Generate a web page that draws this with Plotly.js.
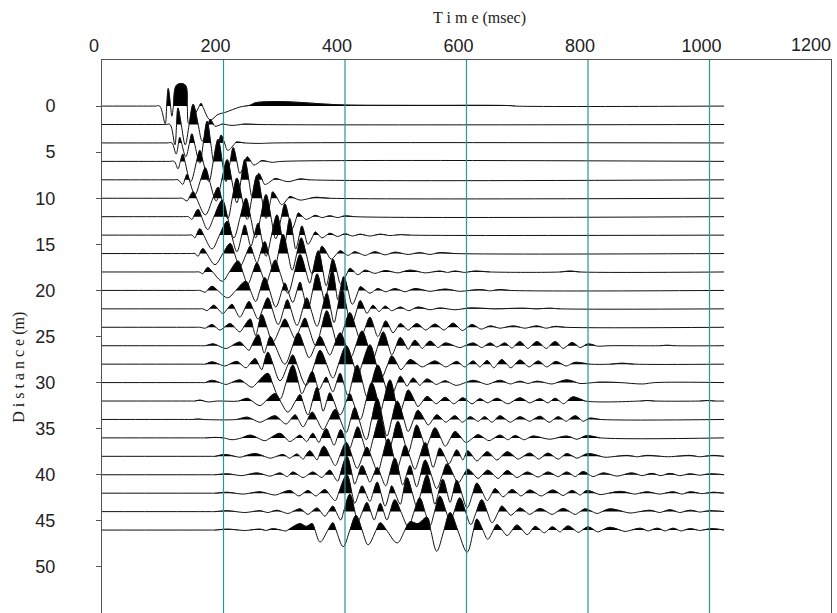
<!DOCTYPE html>
<html>
<head>
<meta charset="utf-8">
<script src="https://cdn.plot.ly/plotly-3.0.1.min.js"></script>
<style>html,body{margin:0;padding:0;background:#fff;}#chart{width:837px;height:613px;}</style>
</head>
<body>
<div id="chart"></div>
<script>
// Distance (m) of each trace
const distances = [0,2,4,6,8,10,12,14,16,18,20,22,24,26,28,30,32,34,36,38,40,42,44,46];
// Time axis ticks (ms) and distance ticks (m)
const timeTicks = [0,200,400,600,800,1000,1200];
const timeLabels = ['0','200','400','600','800','1000',''];
const lastTimeLabel = '1200';
const gridTimes = [200,400,600,800,1000];
const distTicks = [0,5,10,15,20,25,30,35,40,45,50];

// Each trace: [time ms, amplitude m] read at extrema (positive = up, filled)
const w00 = [[0,0],[87,0],[95,0],[104,-1.9],[109,1.9],[115,-1.1],[123,2.3],[137,2.3],[143,-1.9],[163,0.3],[178,-1.5],[191,-0.9],[202,-0.7],[227,-0.1],[244,0.1],[252,0.35],[285,0.5],[326,0.4],[359,0.25],[400,0.12],[507,0.08],[672,0.05],[680,0],[1024,0]];
const w01 = [[0,0],[104,0],[112,0],[120,-2.2],[125,1.8],[137,-2.2],[150,2.2],[165,-1.8],[178,0.55],[186,-0.2],[198,0.05],[214,-0.1],[235,0.05],[260,0],[1024,0]];
const w02 = [[0,0],[107,0],[115,0],[122,-1.2],[128,0.6],[138,-1.5],[148,1.0],[161,-2.2],[173,2.35],[184,-2.0],[196,0.85],[207,-0.8],[221,0.1],[235,0],[260,-0.05],[285,0],[1024,0]];
const w03 = [[0,0],[111,0],[119,0],[125,-0.8],[133,0.8],[146,-2.2],[161,1.2],[176,-2.2],[191,2.4],[204,-2.2],[216,1.5],[227,-1.3],[239,0.5],[250,-0.4],[263,0.1],[280,-0.1],[296,0],[1024,0]];
const w04 = [[0,0],[117,0],[125,0],[133,-0.5],[140,0.6],[153,-1.6],[170,1.3],[188,-2.3],[206,2.2],[222,-2.5],[235,2.2],[247,-1.8],[258,0.7],[268,-0.5],[285,0.15],[306,-0.2],[326,0.1],[342,0],[1024,0]];
const w05 = [[0,0],[124,0],[132,0],[140,-0.3],[150,0.7],[170,-1.8],[191,1.2],[207,-2.2],[222,2.2],[239,-2.3],[255,2.5],[270,-2.2],[281,0.7],[296,-0.7],[309,0.2],[326,-0.2],[351,0.1],[375,0],[1024,0]];
const w06 = [[0,0],[134,0],[142,0],[148,-0.3],[158,0.8],[174,-1.4],[198,1.8],[217,-2.3],[237,2.0],[253,-2.3],[270,2.4],[286,-2.4],[301,1.4],[313,-1.3],[323,0.4],[336,-0.3],[351,0.15],[362,-0.1],[375,0.1],[388,-0.1],[400,0.1],[416,0],[1024,0]];
const w07 = [[0,0],[140,0],[148,0],[153,-0.3],[161,0.7],[181,-1.5],[206,1.5],[222,-1.8],[235,1.1],[245,-1.2],[257,1.3],[270,-2.3],[288,2.2],[300,-1.3],[309,1.8],[319,-1.5],[329,1.0],[339,-1.0],[351,0.35],[362,-0.3],[375,0.2],[388,-0.15],[400,0.15],[412,-0.1],[425,0.1],[441,-0.1],[458,0.1],[474,-0.05],[491,0.05],[507,0],[1024,0]];
const w08 = [[0,0],[145,0],[153,0],[158,-0.3],[166,0.55],[186,-1.2],[211,1.1],[227,-1.4],[244,0.8],[255,-1.0],[268,1.3],[283,-2.0],[298,2.1],[313,-1.8],[328,1.7],[346,-2.2],[362,0.8],[377,-0.6],[392,0.3],[405,-0.2],[416,0.2],[433,-0.2],[449,0.2],[466,-0.15],[482,0.15],[504,-0.1],[523,0.1],[540,-0.1],[556,0.1],[581,0],[1024,0]];
const w09 = [[0,0],[152,0],[160,0],[166,-0.2],[174,0.5],[198,-1.0],[224,1.2],[240,-1.3],[255,1.0],[270,-1.2],[285,1.3],[306,-2.3],[326,1.9],[342,-1.2],[356,2.3],[369,-1.5],[380,1.4],[393,-1.3],[408,0.4],[421,-0.3],[433,0.2],[449,-0.15],[466,0.15],[487,-0.1],[507,0.2],[532,-0.1],[556,0.1],[569,-0.05],[581,0.1],[597,-0.05],[614,0.1],[639,0],[754,0],[770,0.1],[787,0],[1024,0]];
const w10 = [[0,0],[153,0],[161,0],[170,-0.2],[181,0.45],[207,-0.8],[237,1.0],[253,-1.2],[268,1.4],[286,-1.8],[301,0.8],[314,-1.3],[326,0.9],[339,-2.0],[354,1.8],[367,-1.2],[379,2.2],[388,-1.0],[398,1.5],[412,-1.5],[425,0.4],[441,-0.3],[454,0.2],[467,-0.15],[482,0.2],[499,-0.15],[515,0.2],[540,-0.1],[565,0.15],[589,-0.1],[622,0.1],[639,-0.05],[655,0.1],[672,0],[1024,0]];
const w11 = [[0,0],[158,0],[166,0],[173,-0.2],[184,0.4],[199,-0.5],[214,0.5],[227,-0.9],[242,0.8],[257,-1.1],[273,1.2],[290,-1.7],[305,1.0],[321,-1.8],[337,1.2],[354,-1.9],[370,1.7],[382,-1.5],[395,2.1],[410,-1.8],[425,0.9],[436,-0.5],[446,0.4],[456,-0.3],[466,0.3],[477,-0.2],[491,0.2],[505,-0.2],[520,0.2],[540,-0.1],[556,0.1],[581,-0.1],[606,0.1],[647,0],[693,0.07],[716,0],[737,0.07],[754,0],[1024,0]];
const w12 = [[0,0],[153,0],[161,0],[170,-0.1],[181,0.3],[194,-0.3],[211,0.4],[227,-0.5],[244,0.9],[253,-0.9],[263,1.4],[281,-1.6],[301,0.9],[318,-1.2],[334,1.0],[352,-2.0],[370,1.8],[388,-1.8],[408,1.6],[425,-1.3],[441,1.1],[454,-1.0],[467,0.7],[479,-0.6],[491,0.4],[504,-0.3],[518,0.4],[533,-0.3],[548,0.35],[563,-0.3],[578,0.45],[593,-0.35],[609,0.3],[624,-0.2],[639,0.15],[655,-0.1],[677,0.15],[696,-0.1],[716,0.15],[731,-0.1],[746,0.1],[762,0],[1024,0]];
const w13 = [[0,0],[162,0],[170,0],[183,0.2],[204,-0.3],[227,0.4],[242,-0.5],[257,1.2],[267,-0.8],[277,1.0],[301,-2.0],[323,1.4],[341,-1.3],[359,1.0],[375,-1.0],[392,1.4],[410,-1.2],[428,1.6],[446,-1.4],[463,1.5],[477,-1.0],[491,0.9],[504,-0.4],[515,0.6],[527,-0.3],[540,0.5],[553,-0.2],[565,0.3],[589,-0.2],[611,0.3],[625,-0.2],[639,0.3],[650,-0.15],[663,0.3],[675,-0.25],[688,0.45],[701,-0.3],[716,0.45],[731,-0.3],[746,0.45],[759,-0.3],[774,0.35],[787,-0.2],[800,0.2],[816,-0.05],[836,0],[918,0],[930,0.05],[943,0],[1024,0]];
const w14 = [[0,0],[162,0],[170,0],[181,0.25],[202,-0.2],[222,0.3],[237,-0.4],[252,0.6],[263,-0.6],[273,1.3],[293,-1.8],[314,1.0],[336,-2.3],[359,1.5],[380,-1.5],[402,2.0],[421,-1.2],[441,2.1],[459,-1.6],[477,0.9],[492,-0.6],[507,0.5],[527,-0.3],[548,0.35],[566,-0.3],[584,0.3],[597,-0.3],[611,0.35],[622,-0.3],[634,0.4],[645,-0.4],[658,0.5],[673,-0.4],[688,0.45],[703,-0.3],[718,0.35],[732,-0.3],[747,0.3],[764,-0.2],[779,0.2],[803,0],[836,0],[856,0.1],[877,0],[1024,0]];
const w15 = [[0,0],[162,0],[170,0],[181,0.25],[204,-0.2],[227,0.3],[247,-0.5],[273,1.0],[293,-1.8],[314,1.9],[329,-1.2],[346,1.2],[357,-0.8],[369,0.6],[380,-1.0],[392,1.0],[405,-1.4],[420,1.9],[436,-1.5],[454,1.9],[474,-1.7],[491,0.7],[502,-0.4],[512,0.5],[523,-0.3],[535,0.4],[550,-0.2],[565,0.2],[583,-0.3],[611,0.25],[634,-0.2],[655,0.25],[672,-0.15],[688,0.15],[701,-0.1],[716,0.15],[741,-0.15],[765,0.3],[787,-0.1],[820,0.05],[853,0],[890,-0.15],[910,0],[1024,0]];
const w16 = [[0,0],[145,0],[153,0],[161,0.1],[175,-0.1],[190,0],[225,0],[239,0.3],[260,-0.5],[285,0.8],[306,-1.2],[326,0.7],[339,-1.5],[354,1.5],[364,-1.1],[375,0.9],[392,-1.5],[408,0.8],[425,-2.0],[444,2.0],[459,-1.0],[474,2.3],[489,-1.5],[504,1.2],[520,-0.6],[535,0.5],[550,-0.3],[565,0.4],[579,-0.3],[594,0.35],[609,-0.3],[622,0.25],[635,-0.2],[650,0.3],[668,-0.3],[688,0.35],[704,-0.2],[721,0.25],[734,-0.2],[746,0.3],[760,-0.3],[775,0.45],[795,0],[886,0],[897,0.05],[910,0],[984,0],[997,0.05],[1009,0],[1024,0]];
const w17 = [[0,0],[142,0],[150,0],[158,0.05],[166,0],[222,0],[239,0.25],[260,-0.3],[285,0.4],[303,-0.5],[318,0.5],[331,-0.8],[346,0.8],[364,-1.1],[384,1.1],[402,-1.4],[416,1.3],[435,-2.2],[453,2.3],[469,-1.8],[486,2.0],[504,-1.3],[520,1.0],[537,-0.6],[551,0.5],[566,-0.3],[581,0.4],[593,-0.3],[606,0.3],[619,-0.2],[630,0.3],[642,-0.3],[655,0.4],[672,-0.3],[688,0.3],[704,-0.2],[721,0.35],[736,-0.3],[751,0.3],[764,-0.2],[779,0.4],[792,-0.2],[803,0.15],[820,0],[1024,0]];
const w18 = [[0,0],[162,0],[170,0],[186,0.05],[200,0],[214,-0.2],[230,0],[244,0.3],[268,-0.3],[293,0.5],[309,-0.4],[326,0.3],[337,-0.4],[347,0.5],[357,-0.5],[369,1.0],[382,-0.8],[393,0.9],[407,-1.2],[421,1.2],[438,-1.8],[458,2.3],[472,-1.5],[487,1.8],[504,-1.6],[518,1.4],[533,-1.0],[548,1.1],[565,-0.9],[581,0.7],[599,-0.5],[619,0.35],[637,-0.3],[655,0.3],[668,-0.2],[680,0.25],[695,-0.2],[709,0.2],[737,-0.15],[765,0.2],[782,-0.15],[798,0.25],[820,0],[1024,0]];
const w19 = [[0,0],[178,0],[186,0],[202,0.2],[227,-0.1],[252,0.3],[277,-0.2],[298,0.2],[309,-0.2],[321,0.25],[331,-0.3],[342,0.6],[354,-0.4],[365,1.1],[384,-1.0],[402,1.5],[420,-1.3],[436,1.0],[454,-1.6],[471,1.9],[486,-1.3],[499,1.2],[515,-1.4],[532,1.5],[545,-1.2],[556,0.9],[571,-0.8],[584,0.7],[594,-0.4],[602,0.6],[617,-0.5],[634,0.5],[650,-0.4],[667,0.5],[685,-0.3],[704,0.35],[719,-0.3],[734,0.35],[751,-0.3],[765,0.3],[782,-0.2],[800,0.3],[828,-0.1],[864,0.1],[881,-0.05],[897,0.1],[932,-0.05],[968,0.1],[984,-0.05],[1006,0.1],[1024,0]];
const w20 = [[0,0],[178,0],[186,0],[206,0.1],[230,-0.1],[255,0.2],[277,-0.15],[293,0.2],[305,-0.2],[314,0.3],[331,-0.3],[347,0.3],[362,-0.3],[375,0.5],[388,-0.7],[403,2.0],[416,-1.0],[428,1.0],[441,-0.8],[453,0.8],[467,-1.2],[482,1.8],[495,-1.1],[507,1.0],[518,-1.3],[532,1.6],[551,-1.5],[568,1.2],[586,-0.9],[602,0.6],[619,-0.4],[635,0.5],[652,-0.4],[667,0.45],[683,-0.3],[700,0.3],[718,-0.25],[734,0.3],[751,-0.2],[765,0.3],[779,-0.2],[792,0.35],[808,-0.2],[825,0.2],[848,-0.15],[872,0.2],[889,-0.1],[905,0.15],[920,-0.1],[935,0.15],[951,-0.1],[968,0.1],[984,-0.05],[1001,0.1],[1024,0]];
const w21 = [[0,0],[178,0],[186,0],[206,0.1],[232,-0.1],[260,0.15],[285,-0.2],[309,0.3],[324,-0.3],[339,0.3],[352,-0.3],[367,0.4],[384,-0.8],[403,2.0],[416,-1.1],[428,0.8],[441,-0.9],[453,1.2],[466,-1.4],[477,0.8],[491,-1.2],[502,1.7],[518,-1.4],[535,2.0],[548,-1.2],[561,1.5],[573,-1.0],[584,1.4],[601,-1.6],[617,1.1],[634,-0.8],[647,0.5],[660,-0.4],[675,0.4],[690,-0.3],[704,0.35],[723,-0.3],[742,0.35],[759,-0.25],[774,0.3],[787,-0.2],[798,0.3],[820,-0.15],[853,0.2],[877,-0.1],[897,0.15],[918,-0.1],[940,0.15],[955,-0.1],[968,0.15],[988,-0.05],[1006,0.1],[1024,0]];
const w22 = [[0,0],[178,0],[186,0],[206,0.1],[235,-0.1],[260,0.1],[273,-0.1],[288,0.15],[306,-0.2],[326,0.3],[339,-0.3],[354,0.4],[367,-0.5],[380,0.6],[393,-0.9],[408,1.9],[421,-1.1],[436,1.0],[448,-0.9],[458,0.9],[469,-0.9],[482,1.3],[504,-1.6],[523,1.5],[540,-1.5],[556,1.7],[573,-1.1],[589,1.5],[607,-1.4],[625,1.3],[642,-1.2],[658,0.6],[673,-0.4],[688,0.4],[704,-0.3],[721,0.35],[741,-0.3],[759,0.35],[779,-0.3],[795,0.3],[815,-0.2],[836,0.3],[869,-0.15],[902,0.15],[918,-0.1],[935,0.2],[951,-0.1],[968,0.15],[984,-0.05],[1001,0.1],[1024,0]];
const w23 = [[0,0],[178,0],[186,0],[206,0.1],[235,-0.05],[260,0.1],[270,-0.05],[281,0.15],[303,-0.1],[326,0.7],[336,0.4],[346,0.7],[359,-1.3],[380,0.8],[397,-1.8],[418,1.6],[438,-1.6],[458,0.8],[486,-1.4],[507,0.9],[520,0.7],[535,1.4],[551,-2.3],[573,1.9],[601,-2.4],[617,1.2],[635,-1.0],[650,0.6],[667,-0.6],[683,0.55],[700,-0.5],[713,0.4],[728,-0.3],[741,0.35],[754,-0.2],[767,0.45],[784,-0.25],[800,0.35],[816,-0.2],[836,0.3],[861,-0.15],[886,0.2],[899,-0.1],[914,0.2],[927,-0.1],[940,0.2],[953,-0.1],[968,0.15],[984,-0.05],[1004,0.15],[1024,0]];

const waves = [w00,w01,w02,w03,w04,w05,w06,w07,w08,w09,w10,w11,w12,w13,w14,w15,w16,w17,w18,w19,w20,w21,w22,w23];

const traces = [];
waves.forEach((pts, k) => {
  const d = distances[k];
  // nodes with baseline crossings inserted
  const nodes = [];
  for (let i = 0; i < pts.length; i++) {
    const t = pts[i][0], a = pts[i][1];
    if (i > 0) {
      const t0 = pts[i-1][0], a0 = pts[i-1][1];
      if ((a0 > 0 && a < 0) || (a0 < 0 && a > 0)) nodes.push([t0 + (t - t0) * a0 / (a0 - a), 0]);
    }
    nodes.push([t, a]);
  }
  // positive lobes as separate closed pieces (null-separated)
  const fx = [], fy = [];
  let open = false;
  for (let i = 0; i < nodes.length; i++) {
    const [t, a] = nodes[i];
    if (a > 0) {
      if (!open) { const p = nodes[i-1]; fx.push(p[0]); fy.push(d); open = true; }
      fx.push(t); fy.push(d - a);
    } else if (open) {
      fx.push(t); fy.push(d); fx.push(null); fy.push(null); open = false;
    }
  }
  traces.push({
    x: fx, y: fy, type: 'scatter', mode: 'lines', fill: 'toself', connectgaps: false,
    fillcolor: '#000', line: {width: 0.5, color: '#000', shape: 'spline', smoothing: 1}, hoverinfo: 'skip', showlegend: false
  });
  traces.push({
    x: nodes.map(p => p[0]), y: nodes.map(p => d - p[1]), type: 'scatter', mode: 'lines',
    line: {width: 1, color: '#111', shape: 'spline', smoothing: 1}, showlegend: false
  });
});

const tickFont = {family: 'Liberation Sans Narrow, Arial Narrow, sans-serif', size: 18, color: '#222'};

const layout = {
  width: 837, height: 613,
  margin: {l: 102, r: 6, t: 60, b: 0},
  paper_bgcolor: '#fff', plot_bgcolor: '#fff',
  showlegend: false,
  xaxis: {
    range: [0, 1200], side: 'top', tickvals: timeTicks, ticktext: timeLabels,
    ticks: '', showgrid: false, zeroline: false, showline: true, linecolor: '#555', linewidth: 1,
    tickfont: tickFont, ticklabelshift: -8, fixedrange: true
  },
  yaxis: {
    range: [55, -5], tickvals: distTicks, ticktext: distTicks.map(String),
    ticks: 'outside', ticklen: 5, tickcolor: '#555', showgrid: false, zeroline: false,
    showline: true, mirror: true, linecolor: '#555', linewidth: 1,
    tickfont: tickFont, ticklabelstandoff: 37, fixedrange: true
  },
  shapes: gridTimes.map(t => ({
    type: 'line', xref: 'x', yref: 'paper', x0: t, x1: t, y0: 0, y1: 1,
    line: {color: 'rgb(40,150,150)', width: 1.2}, layer: 'above'
  })),
  annotations: [
    {text: lastTimeLabel, xref: 'x', yref: 'paper', x: 1200, y: 1.0, yshift: 15,
     xanchor: 'right', yanchor: 'middle', xshift: 2, showarrow: false, font: tickFont},
    {text: 'T i m e (msec)', xref: 'paper', yref: 'paper', x: 0.5185, y: 1.076,
     xanchor: 'center', yanchor: 'middle', showarrow: false,
     font: {family: 'Liberation Serif, Times New Roman, serif', size: 16, color: '#222'}},
    {text: 'D i s t a n c e (m)', xref: 'paper', yref: 'paper', x: -0.114, y: 0.445,
     xanchor: 'center', yanchor: 'middle', showarrow: false, textangle: -90,
     font: {family: 'Liberation Serif, Times New Roman, serif', size: 16, color: '#222'}}
  ]
};

Plotly.newPlot('chart', traces, layout, {staticPlot: true, displayModeBar: false});
</script>
</body>
</html>
